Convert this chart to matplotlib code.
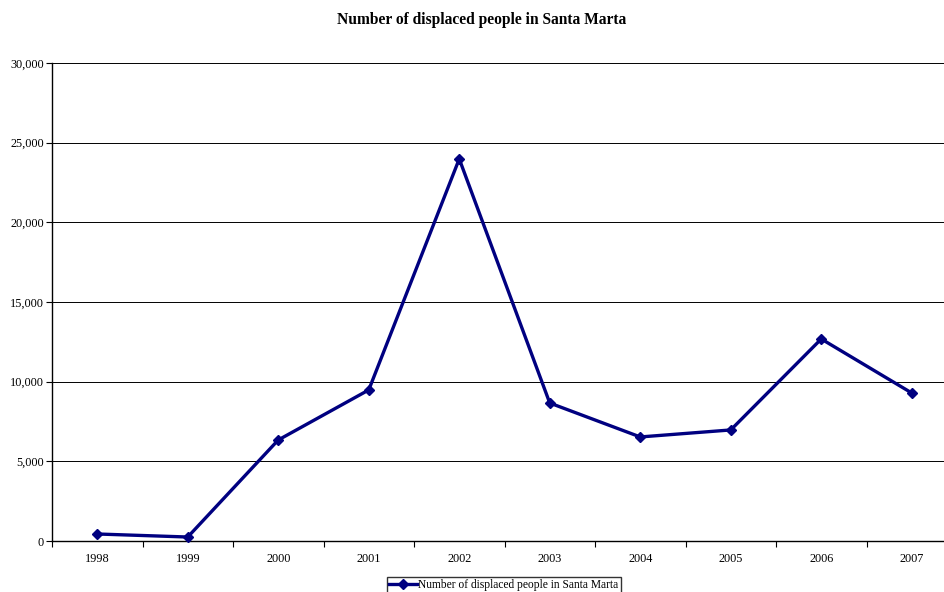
import matplotlib.pyplot as plt
import numpy as np

years = ['1998', '1999', '2000', '2001', '2002', '2003', '2004', '2005', '2006', '2007']
displaced = [440, 250, 6340, 9480, 23980, 8660, 6530, 6970, 12680, 9290]
series_name = 'Number of displaced people in Santa Marta'

plt.rcParams['font.family'] = ['Liberation Serif', 'DejaVu Serif']

fig = plt.figure(figsize=(9.44, 5.92), dpi=100)
ax = fig.add_axes([52 / 944, 1 - 541 / 592, 905 / 944, (541 - 63) / 592])

x = np.arange(len(years))
ax.plot(x, displaced, color='#000080', lw=2.4, marker='D', ms=5.5,
        label=series_name, clip_on=False, zorder=3)

ax.set_xlim(-0.5, len(years) - 0.5)
ax.set_ylim(0, 30000)
ax.set_yticks(np.arange(0, 30001, 5000))
ax.set_yticklabels([f'{v:,}' for v in range(0, 30001, 5000)])
ax.set_xticks(x)
ax.set_xticklabels(years)
ax.set_xticks(np.arange(-0.5, len(years), 1), minor=True)
ax.tick_params(axis='x', which='major', length=0, pad=9, labelsize=8.8)
ax.tick_params(axis='x', which='minor', length=4, direction='out', width=0.8)
ax.tick_params(axis='y', length=4, width=0.8, labelsize=8.8, pad=2)

ax.grid(axis='y', color='#000000', lw=0.7)
ax.set_axisbelow(True)
for s in ['top', 'right']:
    ax.spines[s].set_visible(False)
ax.spines['left'].set_linewidth(1.0)
ax.spines['bottom'].set_linewidth(1.0)

fig.text(482 / 944, 1 - 20 / 592, series_name, ha='center', va='center',
         fontsize=11.2, fontweight='bold')

fig.legend(loc='upper center', bbox_to_anchor=(504 / 944, 1 - 577 / 592), frameon=True,
           fancybox=False, edgecolor='black', fontsize=8.3, handlelength=2.4,
           borderpad=0.2, handletextpad=0.1, borderaxespad=0)

fig.savefig('out.png', dpi=100)
